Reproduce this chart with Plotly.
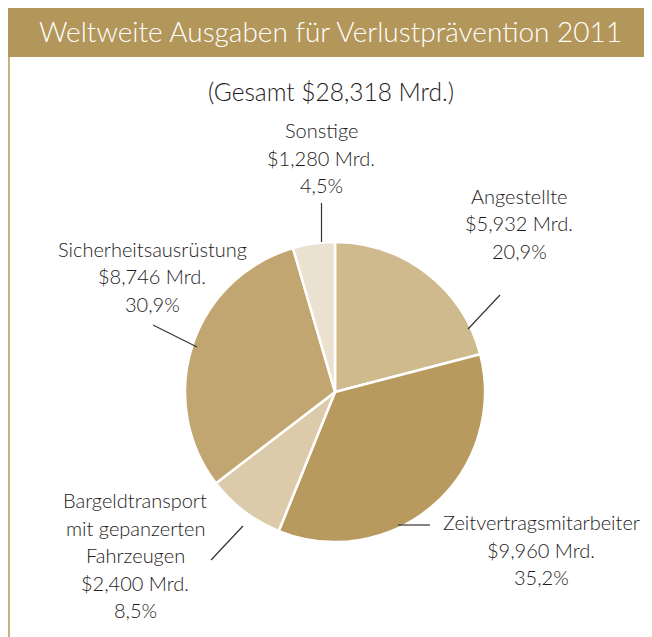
import plotly.graph_objects as go

W, H = 652, 637
OFF = 8  # page body margin offset

categories = ["Angestellte", "Zeitvertragsmitarbeiter", "Bargeldtransport mit gepanzerten Fahrzeugen",
              "Sicherheitsausrüstung", "Sonstige"]
values = [5932, 9960, 2400, 8746, 1280]
value_labels = ["$5,932 Mrd.", "$9,960 Mrd.", "$2,400 Mrd.", "$8,746 Mrd.", "$1,280 Mrd."]
percent_labels = ["20,9%", "35,2%", "8,5%", "30,9%", "4,5%"]
name_lines = [["Angestellte"], ["Zeitvertragsmitarbeiter"],
              ["Bargeldtransport", "mit gepanzerten", "Fahrzeugen"],
              ["Sicherheitsausrüstung"], ["Sonstige"]]
colors = ["#CFBA8E", "#B89A5F", "#DCCBAA", "#C2A671", "#EAE1D0"]

title_text = "Weltweite Ausgaben für Verlustprävention 2011"
subtitle_text = "(Gesamt $28,318 Mrd.)"

FONT = "Lato"
TXT = "#1E1A1B"
GOLD = "#B3965A"


def px(x):
    return (x - OFF) / W


def py(y):
    return 1 - (y - OFF) / H


cx, cy, r = 335, 392, 150

fig = go.Figure(go.Pie(
    labels=categories, values=values, sort=False, direction="clockwise", rotation=0,
    marker=dict(colors=colors, line=dict(color="white", width=2.5)),
    textinfo="none", hoverinfo="label+value+percent",
    domain=dict(x=[px(cx - r), px(cx + r)], y=[py(cy + r), py(cy - r)]),
    showlegend=False,
))

# label placement (centre x, top-line y) in pixels
label_pos = [(519, 196), (541, 522), (135, 500), (152, 249), (321, 130)]
line_gap = 27.5
annotations = []
for i in range(len(values)):
    lines = name_lines[i] + [value_labels[i], percent_labels[i]]
    x0, y0 = label_pos[i]
    for j, t in enumerate(lines):
        annotations.append(dict(x=px(x0), y=py(y0 + j * line_gap), xref="paper", yref="paper",
                                text=t, showarrow=False, xanchor="center", yanchor="middle",
                                font=dict(family=FONT, size=20, color=TXT, weight=300)))

annotations.append(dict(x=px(331), y=py(92), xref="paper", yref="paper", text=subtitle_text,
                        showarrow=False, xanchor="center", yanchor="middle",
                        font=dict(family=FONT, size=24.5, color=TXT, weight=300)))
annotations.append(dict(x=px(330), y=py(31), xref="paper", yref="paper", text=title_text,
                        showarrow=False, xanchor="center", yanchor="middle",
                        font=dict(family=FONT, size=28, color="white", weight=300)))

leaders = [((468, 329), (500, 295)), ((398, 525), (430, 525)), ((243, 526), (211, 560)),
           ((197, 347), (153, 325)), ((321.5, 242), (321.5, 203))]
shapes = [
    dict(type="rect", xref="paper", yref="paper", x0=px(7), x1=1.05, y0=py(57), y1=py(5),
         fillcolor=GOLD, line=dict(width=0), layer="below"),
    dict(type="line", xref="paper", yref="paper", x0=px(9), x1=px(9), y0=py(57), y1=-0.05,
         line=dict(color="#C9B07C", width=2)),
]
for (a, b) in leaders:
    shapes.append(dict(type="line", xref="paper", yref="paper", x0=px(a[0]), y0=py(a[1]),
                       x1=px(b[0]), y1=py(b[1]), line=dict(color="#333333", width=1.2)))

fig.update_layout(width=W, height=H, margin=dict(l=0, r=0, t=0, b=0),
                  paper_bgcolor="white", plot_bgcolor="white",
                  annotations=annotations, shapes=shapes)

fig.write_html("out.html")
